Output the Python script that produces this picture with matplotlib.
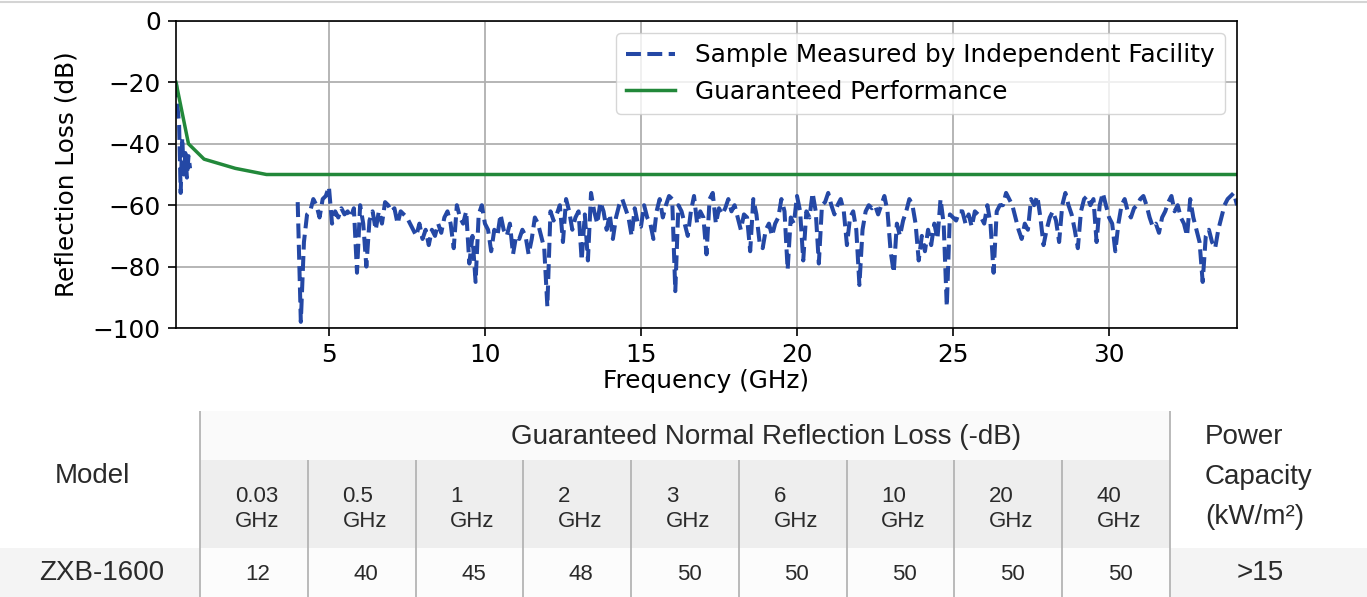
import numpy as np
import matplotlib.pyplot as plt
from matplotlib.patches import Rectangle

# ---------------------------------------------------------------------------
# chart data
# ---------------------------------------------------------------------------
guar_freq = [0.1, 0.5, 1, 2, 3, 6, 10, 20, 40]
guar_loss = [-20, -40, -45, -48, -50, -50, -50, -50, -50]

# measured sample, low band
low_freq = [0.1, 0.15, 0.2, 0.25, 0.3, 0.35, 0.4, 0.45, 0.5, 0.55]
low_loss = [-20, -28, -34, -56, -38, -50, -43, -51, -44, -48]

# measured sample, 4 GHz upwards, one value every 0.1 GHz
meas_start = 4.0
meas_step = 0.1
meas_loss = [
    -59, -98, -72, -63, -62, -58, -60, -64, -58, -57,   # 4.x
    -54, -66, -62, -64, -61, -63, -62, -64, -61, -82,   # 5.x
    -60, -66, -80, -65, -62, -68, -62, -66, -59, -60,   # 6.x
    -62, -61, -66, -62, -63, -64, -66, -68, -70, -66,   # 7.x
    -71, -68, -73, -68, -70, -66, -69, -64, -62, -66,   # 8.x
    -74, -60, -64, -66, -62, -79, -70, -85, -63, -60,   # 9.x
    -66, -68, -75, -68, -70, -63, -68, -70, -66, -76,   # 10.x
    -70, -71, -68, -70, -76, -71, -64, -66, -70, -74,   # 11.x
    -93, -62, -65, -63, -60, -72, -58, -62, -68, -64,   # 12.x
    -62, -78, -63, -78, -56, -62, -66, -59, -62, -68,   # 13.x
    -63, -71, -64, -60, -58, -61, -64, -70, -61, -66,   # 14.x
    -67, -60, -64, -66, -71, -62, -58, -64, -60, -57,   # 15.x
    -58, -88, -60, -62, -66, -70, -62, -57, -66, -62,   # 16.x
    -64, -76, -58, -56, -66, -61, -63, -61, -58, -62,   # 17.x
    -60, -64, -68, -63, -64, -75, -58, -63, -72, -74,   # 18.x
    -68, -66, -70, -66, -64, -58, -62, -81, -64, -66,   # 19.x
    -57, -62, -78, -62, -64, -56, -62, -79, -60, -59,   # 20.x
    -56, -60, -63, -60, -58, -62, -73, -64, -62, -68,   # 21.x
    -86, -68, -62, -60, -61, -60, -63, -60, -57, -62,   # 22.x
    -75, -82, -66, -70, -65, -62, -58, -60, -66, -78,   # 23.x
    -70, -75, -68, -73, -66, -71, -58, -66, -93, -63,   # 24.x
    -64, -65, -62, -62, -66, -63, -67, -62, -63, -64,   # 25.x
    -66, -60, -66, -82, -62, -60, -60, -56, -58, -60,   # 26.x
    -64, -68, -71, -66, -68, -58, -60, -57, -64, -73,   # 27.x
    -68, -64, -62, -65, -72, -60, -56, -60, -63, -68,   # 28.x
    -74, -62, -58, -57, -60, -58, -72, -60, -56, -60,   # 29.x
    -64, -66, -75, -66, -60, -58, -62, -64, -61, -60,   # 30.x
    -58, -57, -60, -64, -67, -66, -69, -64, -62, -59,   # 31.x
    -57, -62, -60, -64, -66, -70, -58, -64, -68, -72,   # 32.x
    -85, -70, -68, -72, -74, -68, -64, -60, -58, -57,   # 33.x
    -56, -60,                                           # 34.x
]

# table data
table_freqs = ['0.03', '0.5', '1', '2', '3', '6', '10', '20', '40']
table_values = [12, 40, 45, 48, 50, 50, 50, 50, 50]
model_name = 'ZXB-1600'
power_capacity = '>15'

# ---------------------------------------------------------------------------
W, H = 1367, 597
blue = '#2448a5'
green = '#22883a'
font_size = 17.8
tab_font = 'Liberation Sans'
tab_color = '#2a2a2a'

fig = plt.figure(figsize=(W / 100, H / 100), dpi=100)
fig.patch.set_facecolor('white')

# table underneath, drawn in pixel coordinates
tab = fig.add_axes([0, 0, 1, 1], zorder=-1)
tab.set_xlim(0, W)
tab.set_ylim(H, 0)
tab.axis('off')

ax = fig.add_axes([176 / W, 1 - 328 / H, (1237 - 176) / W, (328 - 21) / H])

meas_freq = meas_start + meas_step * np.arange(len(meas_loss))
blue_freq = np.concatenate([low_freq, [np.nan], meas_freq])
blue_loss = np.concatenate([low_loss, [np.nan], meas_loss])

ax.plot(blue_freq, blue_loss, '--', color=blue, lw=2.9,
        label='Sample Measured by Independent Facility')
ax.plot(guar_freq, guar_loss, '-', color=green, lw=2.5,
        label='Guaranteed Performance')

ax.set_xlim(0.1, 34.1)
ax.set_ylim(-100, 0)
ax.set_xticks([5, 10, 15, 20, 25, 30])
ax.set_yticks(range(-100, 1, 20))
ax.grid(True, color='#b0b0b0', lw=1.3)
ax.set_axisbelow(True)
ax.tick_params(labelsize=font_size, length=6, width=1.2, pad=5)
for sp in ax.spines.values():
    sp.set_linewidth(1.2)
ax.set_xlabel('Frequency (GHz)', fontsize=font_size, labelpad=1)
ax.set_ylabel('Reflection Loss (dB)', fontsize=font_size, labelpad=10)
ax.legend(loc='upper right', fontsize=font_size)

# thin rule along the top of the picture
tab.axhline(1.5, color='#d4d4d4', lw=1.5)

# ---------------------------------------------------------------------------
# table
# ---------------------------------------------------------------------------
x0, x1 = 200, 1170
ncol = len(table_freqs)
cw = (x1 - x0) / ncol
y_top, y_sub, y_row, y_bot = 411, 460, 548, 597

tab.add_patch(Rectangle((x0, y_top), x1 - x0, y_sub - y_top, color='#fafafa', lw=0))
tab.add_patch(Rectangle((x0, y_sub), x1 - x0, y_row - y_sub, color='#eeeeee', lw=0))
tab.add_patch(Rectangle((0, y_row), x0, y_bot - y_row, color='#f4f4f4', lw=0))
tab.add_patch(Rectangle((x1, y_row), W - x1, y_bot - y_row, color='#f4f4f4', lw=0))
tab.add_patch(Rectangle((x0, y_row), x1 - x0, y_bot - y_row, color='#fcfcfc', lw=0))

line_c = '#b4b4b4'
tab.vlines([x0, x1], y_top, y_bot, color=line_c, lw=1.3)
tab.vlines(x0 + cw * np.arange(1, ncol), y_sub, y_bot, color=line_c, lw=1.3)

tab.text(92, 476, 'Model', ha='center', va='center', fontsize=20,
         family=tab_font, color=tab_color)
tab.text(766, 437, 'Guaranteed Normal Reflection Loss (-dB)', ha='center',
         va='center', fontsize=20, family=tab_font, color=tab_color)
for i, (f, v) in enumerate(zip(table_freqs, table_values)):
    cx = x0 + cw * (i + 0.5)
    tab.text(cx + 3, 509, f + '\nGHz', ha='center', va='center',
             multialignment='left', fontsize=16, linespacing=1.2,
             family=tab_font, color=tab_color)
    tab.text(cx + 4, 574, str(v), ha='center', va='center', fontsize=16,
             family=tab_font, color=tab_color)
tab.text(102, 573, model_name, ha='center', va='center', fontsize=20,
         family=tab_font, color=tab_color)
for yy, s in zip([437, 477, 517], ['Power', 'Capacity', '(kW/m²)']):
    tab.text(1205, yy, s, ha='left', va='center', fontsize=20,
             family=tab_font, color=tab_color)
tab.text(1260, 573, power_capacity, ha='center', va='center', fontsize=20,
         family=tab_font, color=tab_color)

fig.savefig('out.png', dpi=100)
